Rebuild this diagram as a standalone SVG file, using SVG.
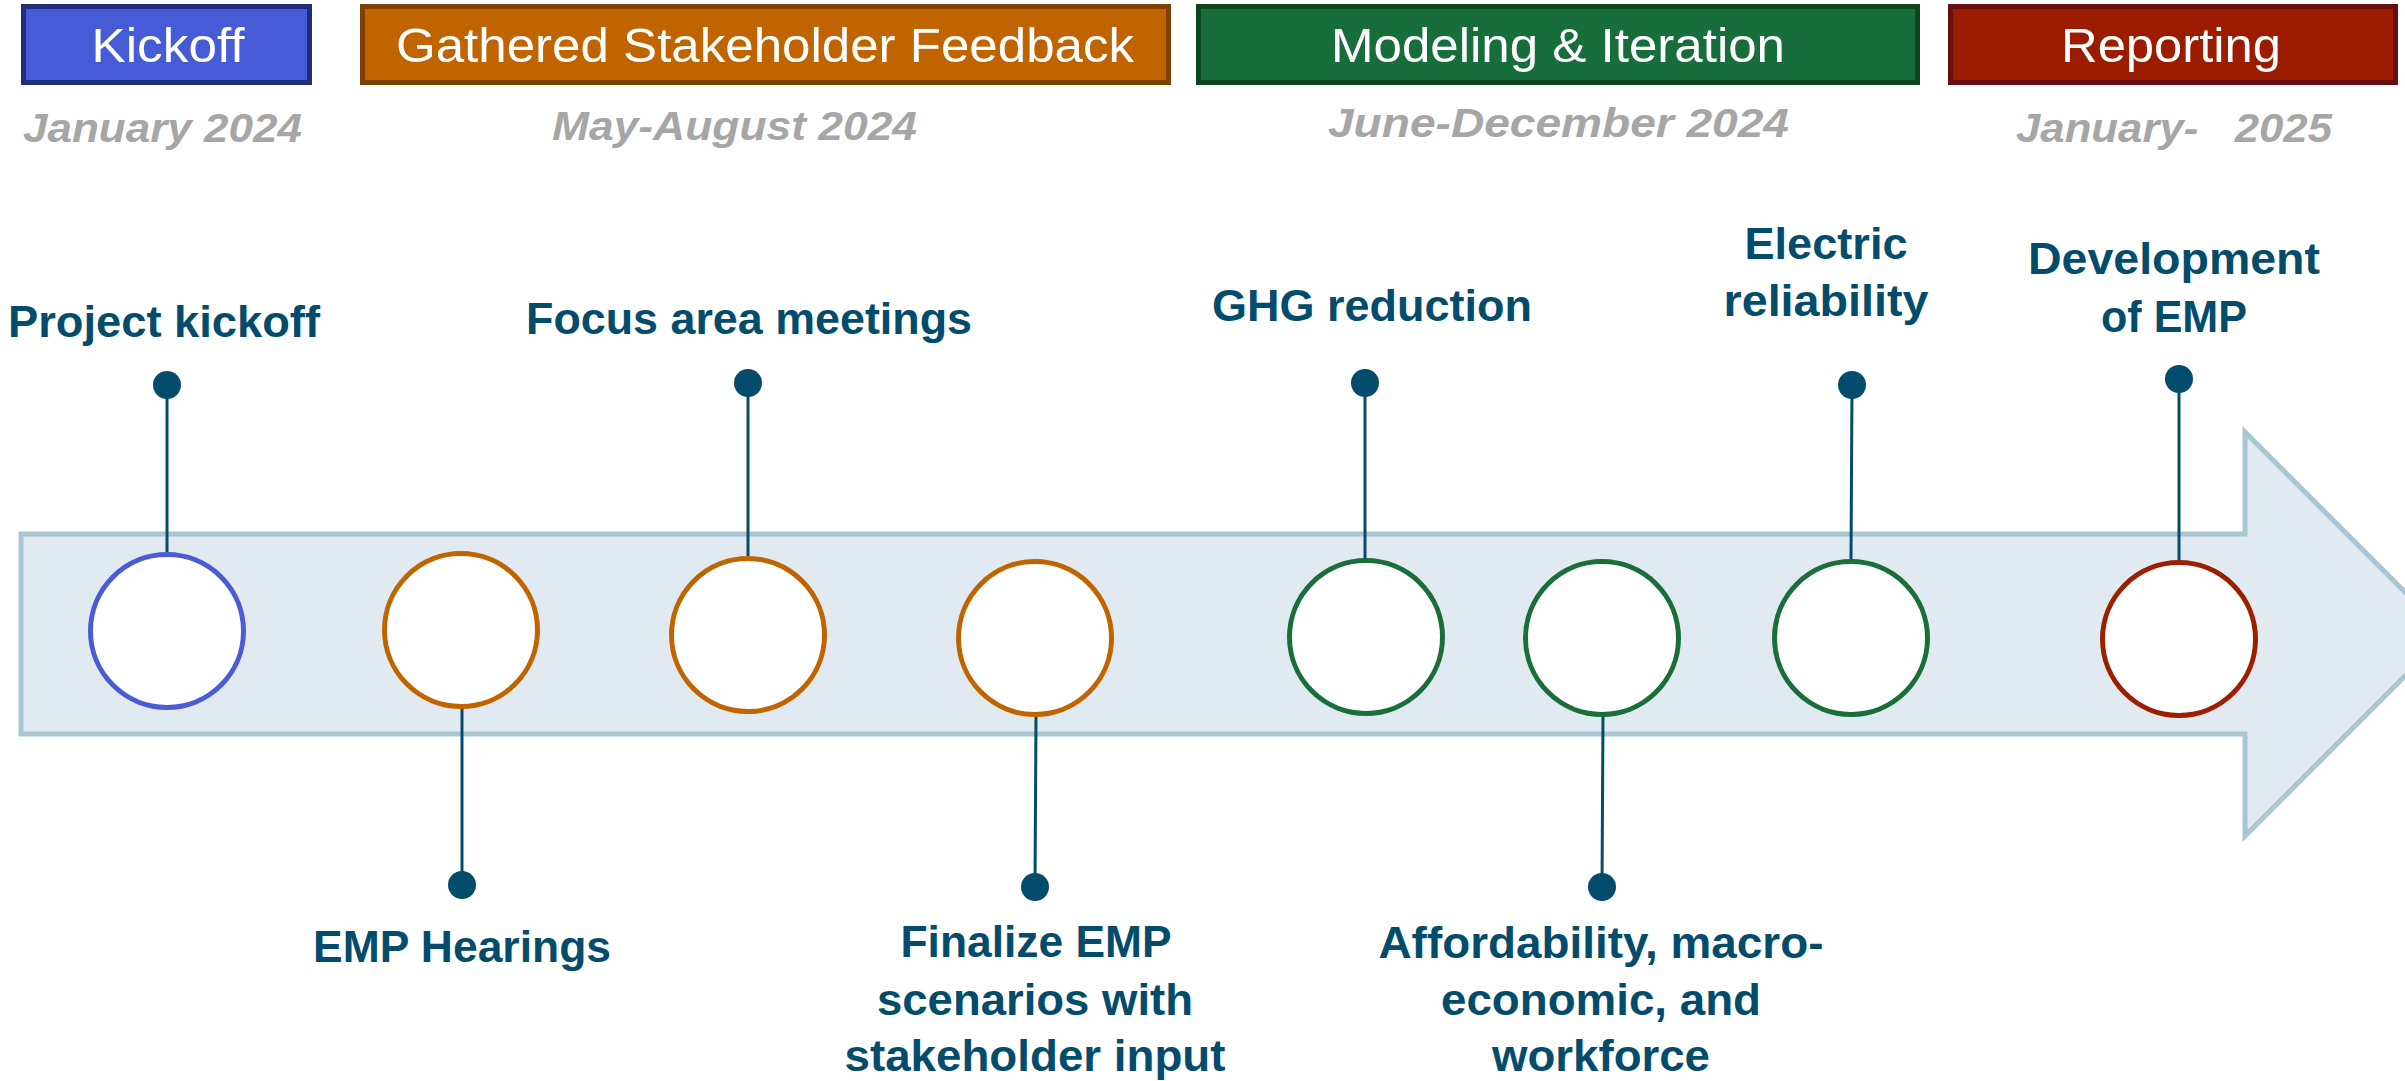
<svg xmlns="http://www.w3.org/2000/svg" width="2405" height="1081" viewBox="0 0 2405 1081">
  <defs>
    <style>
      .phase-box { stroke-width: 5; }
      .phase-title { font-family: "Liberation Sans", Arial, sans-serif; font-size: 49px; fill: #ffffff; text-anchor: middle; }
      .date { font-family: "Liberation Sans", Arial, sans-serif; font-weight: bold; font-style: italic; font-size: 40px; fill: #a6a6a6; white-space: pre; }
      .label { font-family: "Liberation Sans", Arial, sans-serif; font-weight: bold; font-size: 44px; fill: #044c6b; text-anchor: middle; }
      .milestone { fill: #ffffff; stroke-width: 5; }
      .stem { stroke: #044c6b; stroke-width: 3; fill: none; }
      .dot { fill: #044c6b; }
      .kick { stroke: #4a5bd6; }
      .feed { stroke: #c06400; }
      .model { stroke: #1a6e3a; }
      .report { stroke: #9c1f00; }
    </style>
  </defs>

  <rect width="2405" height="1081" fill="#ffffff"/>

  <!-- timeline arrow -->
  <g id="timeline-arrow">
    <polygon points="21,534 2245,534 2245,432 2447,634 2245,836 2245,734 21,734" fill="#e1eaf0" stroke="#a9c7d2" stroke-width="5"/>
  </g>

  <!-- phase headers -->
  <g id="phase-kickoff">
    <rect class="phase-box" x="23.5" y="6.5" width="286" height="76" fill="#465bd6" stroke="#1f2d7b"/>
    <text class="phase-title" x="168" y="62" textLength="153" lengthAdjust="spacingAndGlyphs">Kickoff</text>
    <text class="date" x="23" y="142" textLength="279" lengthAdjust="spacingAndGlyphs">January 2024</text>
  </g>
  <g id="phase-feedback">
    <rect class="phase-box" x="362.5" y="6.5" width="806" height="76" fill="#c06400" stroke="#7f4100"/>
    <text class="phase-title" x="765" y="62" textLength="738" lengthAdjust="spacingAndGlyphs">Gathered Stakeholder Feedback</text>
    <text class="date" x="552" y="140" textLength="365" lengthAdjust="spacingAndGlyphs">May-August 2024</text>
  </g>
  <g id="phase-modeling">
    <rect class="phase-box" x="1198.5" y="6.5" width="719" height="76" fill="#176e3b" stroke="#0c4520"/>
    <text class="phase-title" x="1558" y="62" textLength="454" lengthAdjust="spacingAndGlyphs">Modeling &amp; Iteration</text>
    <text class="date" x="1328" y="137" textLength="461" lengthAdjust="spacingAndGlyphs">June-December 2024</text>
  </g>
  <g id="phase-reporting">
    <rect class="phase-box" x="1950.5" y="6.5" width="445" height="76" fill="#9c1c00" stroke="#6a0f0f"/>
    <text class="phase-title" x="2171" y="62" textLength="220" lengthAdjust="spacingAndGlyphs">Reporting</text>
    <text class="date" x="2016" y="142" textLength="316" lengthAdjust="spacingAndGlyphs">January-   2025</text>
  </g>

  <!-- connectors: stems with end dots -->
  <g id="connectors">
    <line class="stem" x1="167" y1="385" x2="167" y2="553"/>
    <circle class="dot" cx="167" cy="385" r="14"/>
    <line class="stem" x1="462" y1="708" x2="462" y2="885"/>
    <circle class="dot" cx="462" cy="885" r="14"/>
    <line class="stem" x1="748" y1="383" x2="748" y2="557"/>
    <circle class="dot" cx="748" cy="383" r="14"/>
    <line class="stem" x1="1036" y1="716" x2="1035" y2="887"/>
    <circle class="dot" cx="1035" cy="887" r="14"/>
    <line class="stem" x1="1365" y1="383" x2="1365" y2="559"/>
    <circle class="dot" cx="1365" cy="383" r="14"/>
    <line class="stem" x1="1603" y1="716" x2="1602" y2="887"/>
    <circle class="dot" cx="1602" cy="887" r="14"/>
    <line class="stem" x1="1852" y1="385" x2="1851" y2="560"/>
    <circle class="dot" cx="1852" cy="385" r="14"/>
    <line class="stem" x1="2179" y1="379" x2="2179" y2="561"/>
    <circle class="dot" cx="2179" cy="379" r="14"/>
  </g>

  <!-- milestones -->
  <g id="m-project-kickoff">
    <circle class="milestone kick" cx="167" cy="631" r="76.5"/>
    <text class="label" x="164" y="337" textLength="312" lengthAdjust="spacingAndGlyphs">Project kickoff</text>
  </g>
  <g id="m-emp-hearings">
    <circle class="milestone feed" cx="461" cy="630" r="76.5"/>
    <text class="label" x="462" y="962" textLength="298" lengthAdjust="spacingAndGlyphs">EMP Hearings</text>
  </g>
  <g id="m-focus-area">
    <circle class="milestone feed" cx="748" cy="635" r="76.5"/>
    <text class="label" x="749" y="334" textLength="446" lengthAdjust="spacingAndGlyphs">Focus area meetings</text>
  </g>
  <g id="m-finalize-scenarios">
    <circle class="milestone feed" cx="1035" cy="638" r="76.5"/>
    <text class="label" x="1036" y="957" textLength="271" lengthAdjust="spacingAndGlyphs">Finalize EMP</text>
    <text class="label" x="1035" y="1015" textLength="316" lengthAdjust="spacingAndGlyphs">scenarios with</text>
    <text class="label" x="1035" y="1071" textLength="381" lengthAdjust="spacingAndGlyphs">stakeholder input</text>
  </g>
  <g id="m-ghg-reduction">
    <circle class="milestone model" cx="1366" cy="637" r="76.5"/>
    <text class="label" x="1372" y="321" textLength="320" lengthAdjust="spacingAndGlyphs">GHG reduction</text>
  </g>
  <g id="m-affordability">
    <circle class="milestone model" cx="1602" cy="638" r="76.5"/>
    <text class="label" x="1601" y="958" textLength="445" lengthAdjust="spacingAndGlyphs">Affordability, macro-</text>
    <text class="label" x="1601" y="1015" textLength="320" lengthAdjust="spacingAndGlyphs">economic, and</text>
    <text class="label" x="1601" y="1071" textLength="218" lengthAdjust="spacingAndGlyphs">workforce</text>
  </g>
  <g id="m-electric-reliability">
    <circle class="milestone model" cx="1851" cy="638" r="76.5"/>
    <text class="label" x="1826" y="259" textLength="163" lengthAdjust="spacingAndGlyphs">Electric</text>
    <text class="label" x="1826" y="316" textLength="205" lengthAdjust="spacingAndGlyphs">reliability</text>
  </g>
  <g id="m-development-emp">
    <circle class="milestone report" cx="2179" cy="639" r="76.5"/>
    <text class="label" x="2174" y="274" textLength="292" lengthAdjust="spacingAndGlyphs">Development</text>
    <text class="label" x="2174" y="332" textLength="146" lengthAdjust="spacingAndGlyphs">of EMP</text>
  </g>
</svg>
